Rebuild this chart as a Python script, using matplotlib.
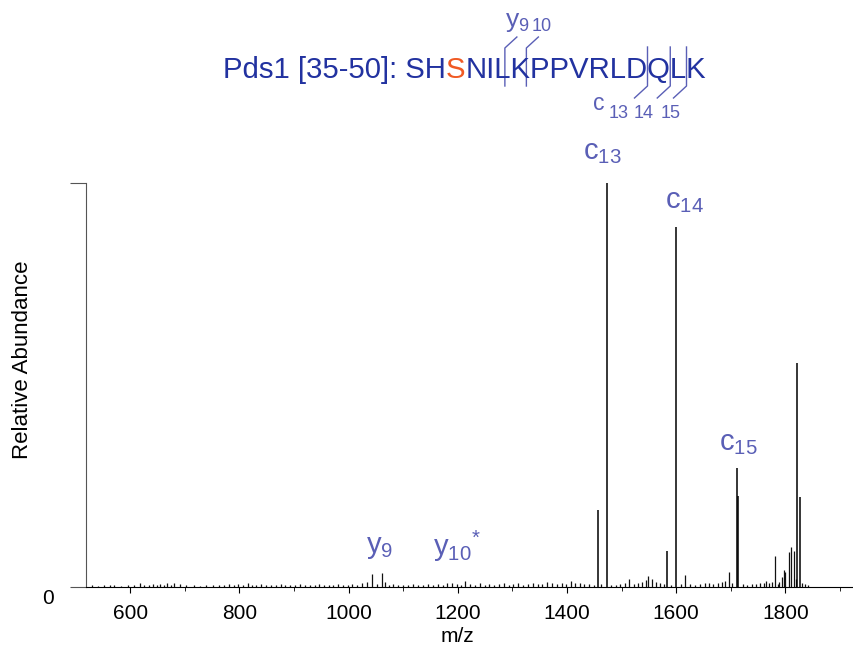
import matplotlib
matplotlib.use('Agg')
import matplotlib.pyplot as plt

plt.rcParams['font.family'] = ['Liberation Sans', 'DejaVu Sans']
plt.rcParams['mathtext.default'] = 'regular'

# main fragment peaks (m/z, relative intensity)
peak_mz = [1457, 1474, 1584, 1600, 1712, 1714, 1822, 1826]
peak_int = [0.19, 1.0, 0.09, 0.89, 0.295, 0.225, 0.555, 0.223]

# small peaks / noise along the baseline
noise_mz = [530, 541, 552, 563, 571, 584, 596, 607, 618, 626, 634, 641, 649, 655, 662, 668, 675, 681,
            692, 703, 716, 727, 738, 751, 763, 772, 781, 790, 798, 806, 815, 823, 831, 840, 849, 858,
            867, 876, 884, 893, 902, 911, 920, 929, 938, 946, 955, 964, 972, 981, 990, 998, 1007, 1016,
            1024, 1034, 1043, 1052, 1062, 1067, 1074, 1082, 1091, 1100, 1109, 1118, 1127, 1136, 1145,
            1154, 1163, 1172, 1181, 1189, 1198, 1206, 1214, 1222, 1231, 1240, 1249, 1258, 1267, 1276,
            1284, 1293, 1302, 1311, 1320, 1328, 1337, 1346, 1355, 1364, 1372, 1381, 1390, 1398, 1407,
            1415, 1423, 1432, 1441, 1449, 1463, 1480, 1489, 1497, 1506, 1514, 1522, 1530, 1538, 1544,
            1549, 1556, 1563, 1570, 1577, 1591, 1608, 1617, 1626, 1635, 1644, 1652, 1660, 1668, 1676,
            1684, 1690, 1696, 1703, 1722, 1730, 1738, 1746, 1754, 1760, 1764, 1770, 1775, 1781, 1786,
            1788, 1794, 1797, 1800, 1806, 1811, 1815, 1819, 1831, 1836, 1842]
noise_int = [.004, .003, .005, .004, .006, .003, .005, .004, .009, .005, .006, .007, .005, .008, .006, .009, .005, .011,
             .007, .004, .006, .003, .005, .004, .006, .005, .007, .006, .008, .005, .009, .006, .005, .007, .004, .006,
             .005, .007, .004, .006, .005, .007, .004, .006, .005, .007, .005, .006, .004, .008, .005, .006, .007, .005,
             .009, .012, .032, .008, .035, .013, .006, .008, .005, .006, .004, .007, .005, .006, .008,
             .005, .007, .006, .009, .010, .008, .006, .016, .007, .005, .009, .006, .007, .005, .008,
             .010, .006, .007, .009, .006, .008, .011, .007, .008, .012, .009, .007, .010, .008, .014,
             .009, .010, .008, .007, .006, .008, .006, .005, .007, .009, .020, .008, .010, .012, .018,
             .026, .020, .012, .010, .008, .006, .007, .030, .008, .006, .007, .009, .011, .008, .010,
             .012, .015, .037, .009, .007, .006, .008, .007, .009, .011, .014, .010, .012, .077, .008,
             .012, .025, .042, .038, .087, .100, .088, .020, .010, .008, .006]

# peak labels
label_text = [r'$c_{13}$', r'$c_{14}$', r'$c_{15}$', r'$y_{9}$', r'$y_{10}{}^{*}$']
label_mz = [1474, 1600, 1712, 1062, 1214]
label_off = [(-4, 17), (6, 14), (1, 13), (-2, 14), (-6, 18)]

title_blue = '#2232a0'
ann_blue = '#5a5fb6'
orange = '#f05a24'

W, H = 854, 654
fig = plt.figure(figsize=(W / 100, H / 100), dpi=100)


def fx(x):
    return x / W


def fy(y):
    return 1 - y / H


ax = fig.add_axes([fx(86), fy(587), (852 - 86) / W, (587 - 183) / H])
ax.vlines(noise_mz, 0, noise_int, color='#111111', lw=0.9)
ax.vlines(peak_mz, 0, peak_int, color='black', lw=1.1)
ax.set_xlim(519, 1922)
ax.set_ylim(0, 1)

for s in ['top', 'right']:
    ax.spines[s].set_visible(False)
ax.spines['left'].set_color('#555555')
ax.spines['bottom'].set_color('black')

ax.set_xticks(range(600, 1801, 200))
ax.set_xticks(range(600, 1901, 100), minor=True)
ax.tick_params(axis='x', which='major', length=4, direction='out', labelsize=15, pad=8)
ax.tick_params(axis='x', which='minor', length=3, direction='out')
ax.set_yticks([0, 1])
ax.set_yticklabels(['', ''])
ax.tick_params(axis='y', length=11.5, direction='out', color='#555555')
ax.annotate('0', xy=(0, 0), xycoords='axes fraction', xytext=(-27, -8), textcoords='offset points',
            ha='center', va='center', fontsize=15)

ax.set_xlabel('m/z', fontsize=15)
ax.xaxis.set_label_coords((457 - 86) / 766, -0.10)
ax.set_ylabel('Relative Abundance', fontsize=16)
ax.yaxis.set_label_coords(-0.069, 0.562)

for t, m, off in zip(label_text, label_mz, label_off):
    yv = max([i for p, i in zip(peak_mz + noise_mz, peak_int + noise_int) if p == m])
    ax.annotate(t, xy=(m, yv), xytext=off, textcoords='offset points', ha='center', va='baseline',
                fontsize=21, color=ann_blue, annotation_clip=False)

# peptide sequence with cleavage brackets
fig.canvas.draw()
r = fig.canvas.get_renderer()
x0, base = 223, 78
fs = 21.2
pre = 'Pds1 [35-50]: SH'
seq = 'Pds1 [35-50]: SHSNILKPPVRLDQLK'


def tw(s):
    t = fig.text(0, 0, s, fontsize=fs)
    w = t.get_window_extent(r).width
    t.remove()
    return w


def bound(p):
    return x0 + tw(p + 'I') - tw('I')


for s, c, start in [(pre, title_blue, ''), ('S', orange, pre), ('NILKPPVRLDQLK', title_blue, pre + 'S')]:
    xs = x0 if start == '' else bound(start)
    fig.text(fx(xs), fy(base), s, color=c, fontsize=fs, va='baseline', ha='left')


def line(xs, ys):
    fig.add_artist(plt.Line2D([fx(v) for v in xs], [fy(v) for v in ys], color=ann_blue, lw=1))


# y ions: cuts after L (y10) and after K (y9)
yb = [bound(seq[:20]) - 6, bound(seq[:21]) - 4]
for b in yb:
    line([b, b, b + 12], [base + 8, base - 30, base - 41])
fig.text(fx(yb[0] + 8), fy(base - 51), 'y', fontsize=19, color=ann_blue, ha='center', va='baseline')
fig.text(fx(yb[0] + 18), fy(base - 47), '9', fontsize=13, color=ann_blue, ha='center', va='baseline')
fig.text(fx(yb[0] + 37), fy(base - 47), '10', fontsize=13, color=ann_blue, ha='center', va='baseline')

# c ions: cuts after D, Q, L
cb = [bound(seq[:27]), bound(seq[:28]), bound(seq[:29])]
for b in cb:
    line([b, b, b - 13], [base - 31, base + 8, base + 20])
fig.text(fx(cb[0] - 54), fy(base + 32), 'c', fontsize=16.5, color=ann_blue, ha='left', va='baseline')
for d, dx in zip(['13', '14', '15'], [-29, -4, 23]):
    fig.text(fx(cb[0] + dx), fy(base + 40), d, fontsize=13, color=ann_blue, ha='center', va='baseline')

fig.savefig('out.png', dpi=100)
